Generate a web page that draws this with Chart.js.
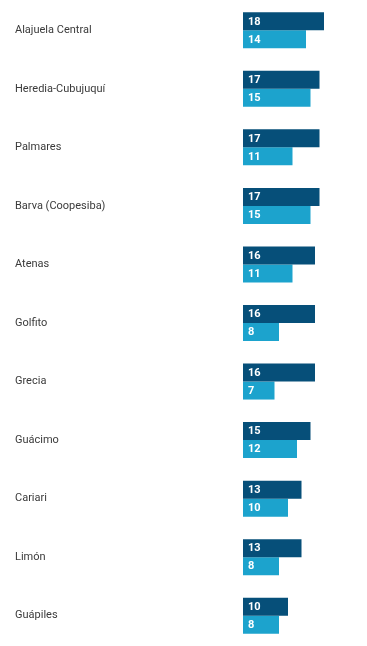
<!DOCTYPE html>
<html>
<head>
<meta charset="utf-8">
<script src="https://cdn.jsdelivr.net/npm/chart.js@4/dist/chart.umd.min.js"></script>
<style>
  html,body{margin:0;padding:0;background:#fff;}
  #wrap{position:relative;width:367px;height:646px;}
</style>
</head>
<body>
<div id="wrap"><canvas id="chart"></canvas></div>
<script>
const categories=['Alajuela Central','Heredia-Cubujuquí','Palmares','Barva (Coopesiba)','Atenas','Golfito','Grecia','Guácimo','Cariari','Limón','Guápiles'];
const seriesA=[18,17,17,17,16,16,16,15,13,13,10];
const seriesB=[14,15,11,15,11,8,7,12,10,8,8];

// white value labels at the start of each bar
const valueLabels={
    id:'valueLabels',
    afterDatasetsDraw(chart){
        const ctx=chart.ctx;
        ctx.save();
        ctx.font='bold 11px Roboto';
        ctx.fillStyle='#ffffff';
        ctx.textBaseline='middle';
        ctx.textAlign='left';
        chart.data.datasets.forEach((ds,i)=>{
            chart.getDatasetMeta(i).data.forEach((bar,j)=>{
                ctx.fillText(ds.data[j],bar.base+5,bar.y+0.5);
            });
        });
        ctx.restore();
    }
};

new Chart(document.getElementById('chart'),{
    type:'bar',
    data:{
        labels:categories,
        datasets:[
            {label:'A',data:seriesA,backgroundColor:'#064f79'},
            {label:'B',data:seriesB,backgroundColor:'#1ca3cd'}
        ]
    },
    options:{
        indexAxis:'y',
        responsive:true,
        maintainAspectRatio:false,
        animation:false,
        layout:{padding:{left:15,right:34,top:1,bottom:1}},
        datasets:{bar:{barPercentage:1,categoryPercentage:0.615}},
        plugins:{legend:{display:false},tooltip:{enabled:false}},
        scales:{
            x:{display:false,min:0,max:20},
            y:{
                grid:{display:false},
                border:{display:false},
                ticks:{crossAlign:'far',color:'#3a3a3a',font:{family:'Roboto',size:11},padding:0},
                afterFit(axis){
                    axis.width=228;
                    axis.paddingTop=0;
                    axis.paddingBottom=0;
                }
            }
        }
    },
    plugins:[valueLabels]
});
</script>
</body>
</html>
